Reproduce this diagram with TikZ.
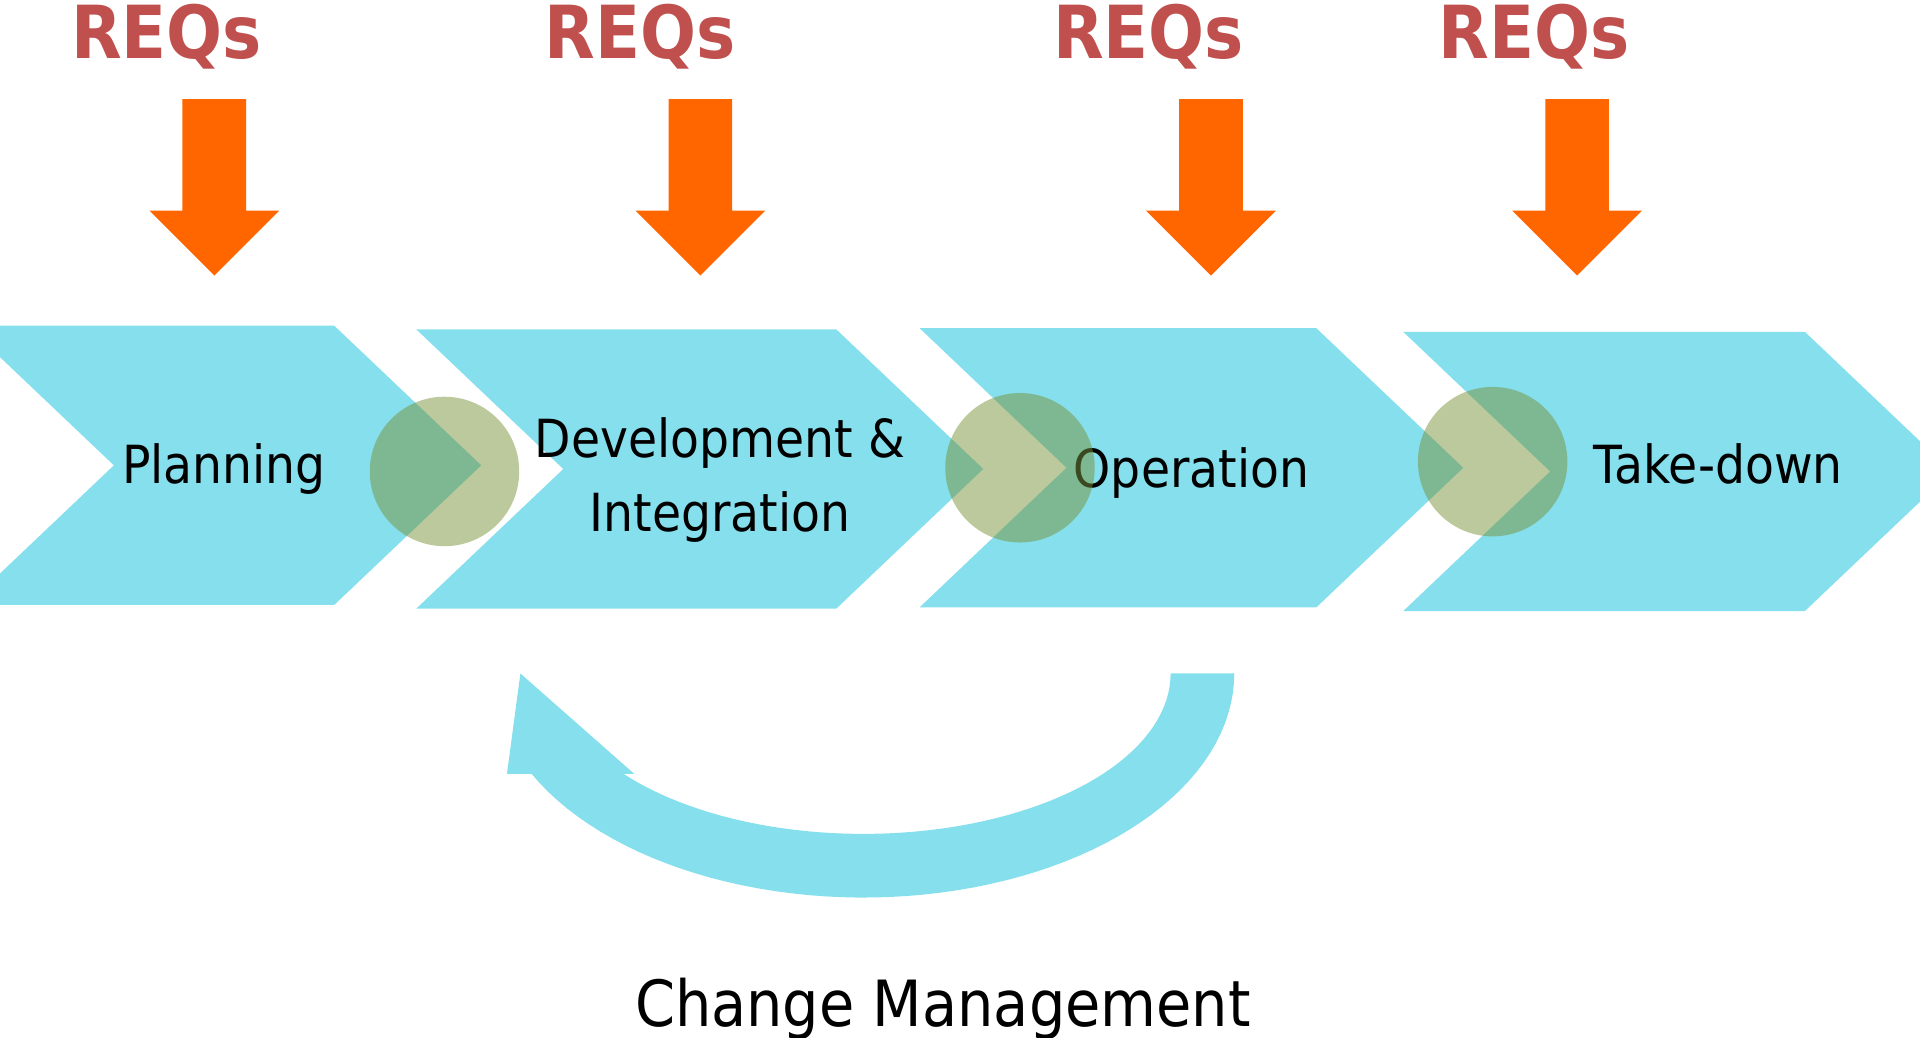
\documentclass[tikz,border=0pt]{standalone}
\usepackage{fontspec}
\setmainfont{DejaVu Sans}[FakeStretch=0.9]
\definecolor{chevcyan}{HTML}{86DFEC}
\definecolor{reqorange}{HTML}{FF6600}
\definecolor{reqred}{HTML}{C0504D}
\definecolor{linkgreen}{HTML}{77933C}

\begin{document}
\begin{tikzpicture}[x=0.01cm,y=-0.01cm,
	phase/.style={font=\fontsize{12.2}{17.1}\selectfont, align=center},
	reqs/.style={font=\fontsize{17}{20}\selectfont\bfseries, text=reqred, anchor=base},
	link/.style={fill=linkgreen, fill opacity=0.5}]
	\clip (0,0) rectangle (1568,847);
	\foreach \xl/\xr/\yt in {-27/273/266, 340/683/269, 751/1075/268, 1146/1474/271}
		\fill[chevcyan] (\xl,\yt) -- (\xr,\yt) -- (\xr+120,\yt+114) -- (\xr,\yt+228) -- (\xl,\yt+228) -- (\xl+120,\yt+114) -- cycle;
	\fill[chevcyan] plot[domain=0:153.4, samples=60] ({705+303*cos(\x)},{550+183*sin(\x)}) -- (414,632) -- (425,550) -- (518,632)
		-- plot[domain=141.2:0, samples=60] ({705+251*cos(\x)},{550+131*sin(\x)}) -- cycle;
	\node[phase, anchor=base] (plan) at (183,395) {Planning};
	\node[phase] (dev) at (588,392) {Development \&\\Integration};
	\node[phase, anchor=base] (op) at (973,398) {Operation};
	\node[phase, anchor=base] (down) at (1403,395) {Take-down};
	\foreach \cx/\cy in {363/385, 833/382, 1219/377}
		\fill[link] (\cx,\cy) circle[radius=0.61cm];
	\foreach \ax in {175,572,989,1288}
		\fill[reqorange] (\ax-26,81) -- (\ax+26,81) -- (\ax+26,172) -- (\ax+53,172) -- (\ax,225) -- (\ax-53,172) -- (\ax-26,172) -- cycle;
	\node[reqs] (req1) at (136,48) {REQs};
	\node[reqs] (req2) at (523,48) {REQs};
	\node[reqs] (req3) at (938,48) {REQs};
	\node[reqs] (req4) at (1253,48) {REQs};
	\node[font=\fontsize{14.8}{18}\selectfont, anchor=base] (cm) at (770,838) {Change Management};
\end{tikzpicture}
\end{document}
